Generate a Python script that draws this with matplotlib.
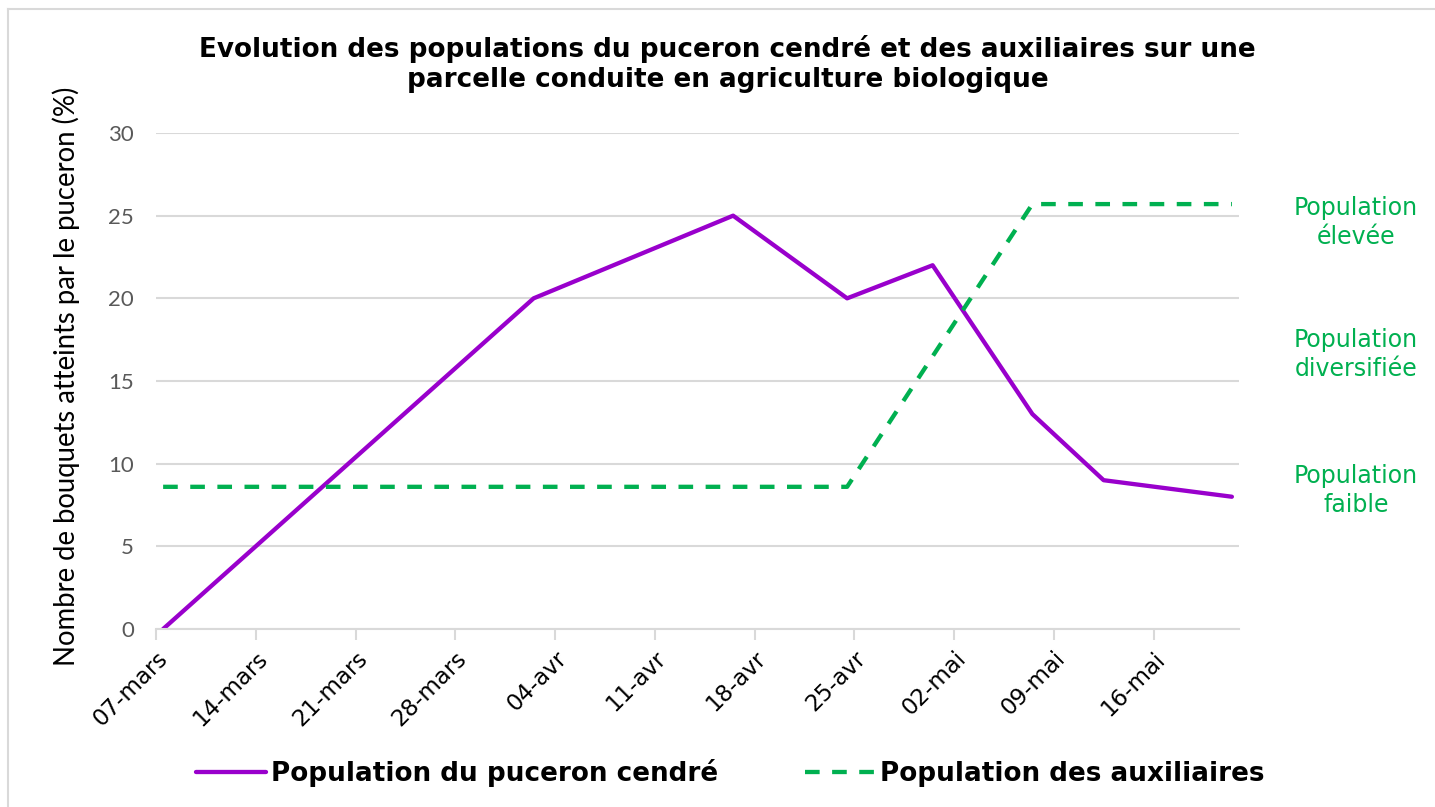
import datetime as dt
import matplotlib
matplotlib.use("Agg")
import matplotlib.pyplot as plt
import matplotlib.dates as mdates
from matplotlib.lines import Line2D

# Données
annee = 2022
dates_puceron = ["03-07", "04-02", "04-16", "04-24", "04-30", "05-07", "05-12", "05-21"]
puceron = [0, 20, 25, 20, 22, 13, 9, 8]
dates_aux = ["03-07", "04-24", "05-07", "05-21"]
auxiliaires = [8.6, 8.6, 25.7, 25.7]
niveaux = ["Population\nfaible", "Population\ndiversifiée", "Population\nélevée"]
mois_fr = {3: "mars", 4: "avr", 5: "mai"}

titre = ("Evolution des populations du puceron cendré et des auxiliaires sur une\n"
         "parcelle conduite en agriculture biologique")


def to_date(s):
    m, d = s.split("-")
    # Excel place le point au milieu du jour
    return dt.datetime(annee, int(m), int(d), 12)


x_puc = [to_date(s) for s in dates_puceron]
x_aux = [to_date(s) for s in dates_aux]

violet = "#9900CC"
vert = "#00B050"
gris = "#D9D9D9"

fig = plt.figure(figsize=(14.35, 8.07), dpi=100)
ax = fig.add_axes([156 / 1435, 1 - 629 / 807, (1239 - 156) / 1435, (629 - 133) / 807])

ax.plot(x_puc, puceron, color=violet, lw=3.1, solid_capstyle="round",
        label="Population du puceron cendré")
ax.plot(x_aux, auxiliaires, color=vert, lw=3.1, ls=(0, (3.4, 2.9)),
        label="Population des auxiliaires")

debut = dt.datetime(annee, 3, 7)
fin = dt.datetime(annee, 5, 22)
ax.set_xlim(debut, fin)
ax.set_ylim(0, 30)
ax.set_yticks(range(0, 31, 5))
ticks = [debut + dt.timedelta(days=7 * i) for i in range(11)]
ax.set_xticks(ticks)
ax.xaxis.set_major_formatter(
    plt.FuncFormatter(lambda v, p: "%02d-%s" % (mdates.num2date(v).day,
                                                 mois_fr[mdates.num2date(v).month])))

ax.grid(axis="y", color=gris, lw=1.5)
ax.set_axisbelow(True)
for s in ["top", "right", "left"]:
    ax.spines[s].set_visible(False)
ax.spines["bottom"].set_color(gris)
ax.spines["bottom"].set_linewidth(1.5)
ax.tick_params(axis="x", length=8, width=1.5, color=gris, pad=5)
ax.tick_params(axis="y", length=0, pad=16)

for lab in ax.get_xticklabels():
    lab.set_rotation(45)
    lab.set_ha("right")
    lab.set_rotation_mode("anchor")
    lab.set_fontsize(16.5)
    lab.set_family("DejaVu Sans")
for lab in ax.get_yticklabels():
    lab.set_fontsize(16)
    lab.set_color("#595959")
    lab.set_family("Lato")

ax.set_ylabel("Nombre de bouquets atteints par le puceron (%)", fontsize=19.8,
              family="Lato")
ax.yaxis.set_label_coords(-0.07, 0.51)

fig.text(0.507, 0.921, titre, ha="center", va="center", fontsize=18.9,
         fontweight="bold", linespacing=1.2)

for niv, yv in zip(niveaux, [8.4, 16.6, 24.6]):
    ax.text(1.108, yv / 30, niv, transform=ax.transAxes, ha="center", va="center",
            color=vert, fontsize=17, linespacing=1.27)

leg = fig.legend(loc="center", bbox_to_anchor=(0.509, 0.042), ncol=2, frameon=False,
                 prop={"weight": "bold", "size": 18.9}, handlelength=2.65,
                 handletextpad=0.2, columnspacing=3.3)

# bordure du cadre Excel
fig.add_artist(Line2D([8 / 1435, 8 / 1435], [0, 1 - 9 / 807], transform=fig.transFigure,
                      color=gris, lw=1.5))
fig.add_artist(Line2D([8 / 1435, 1], [1 - 9 / 807, 1 - 9 / 807], transform=fig.transFigure,
                      color=gris, lw=1.5))

fig.savefig("out.png", dpi=100)
